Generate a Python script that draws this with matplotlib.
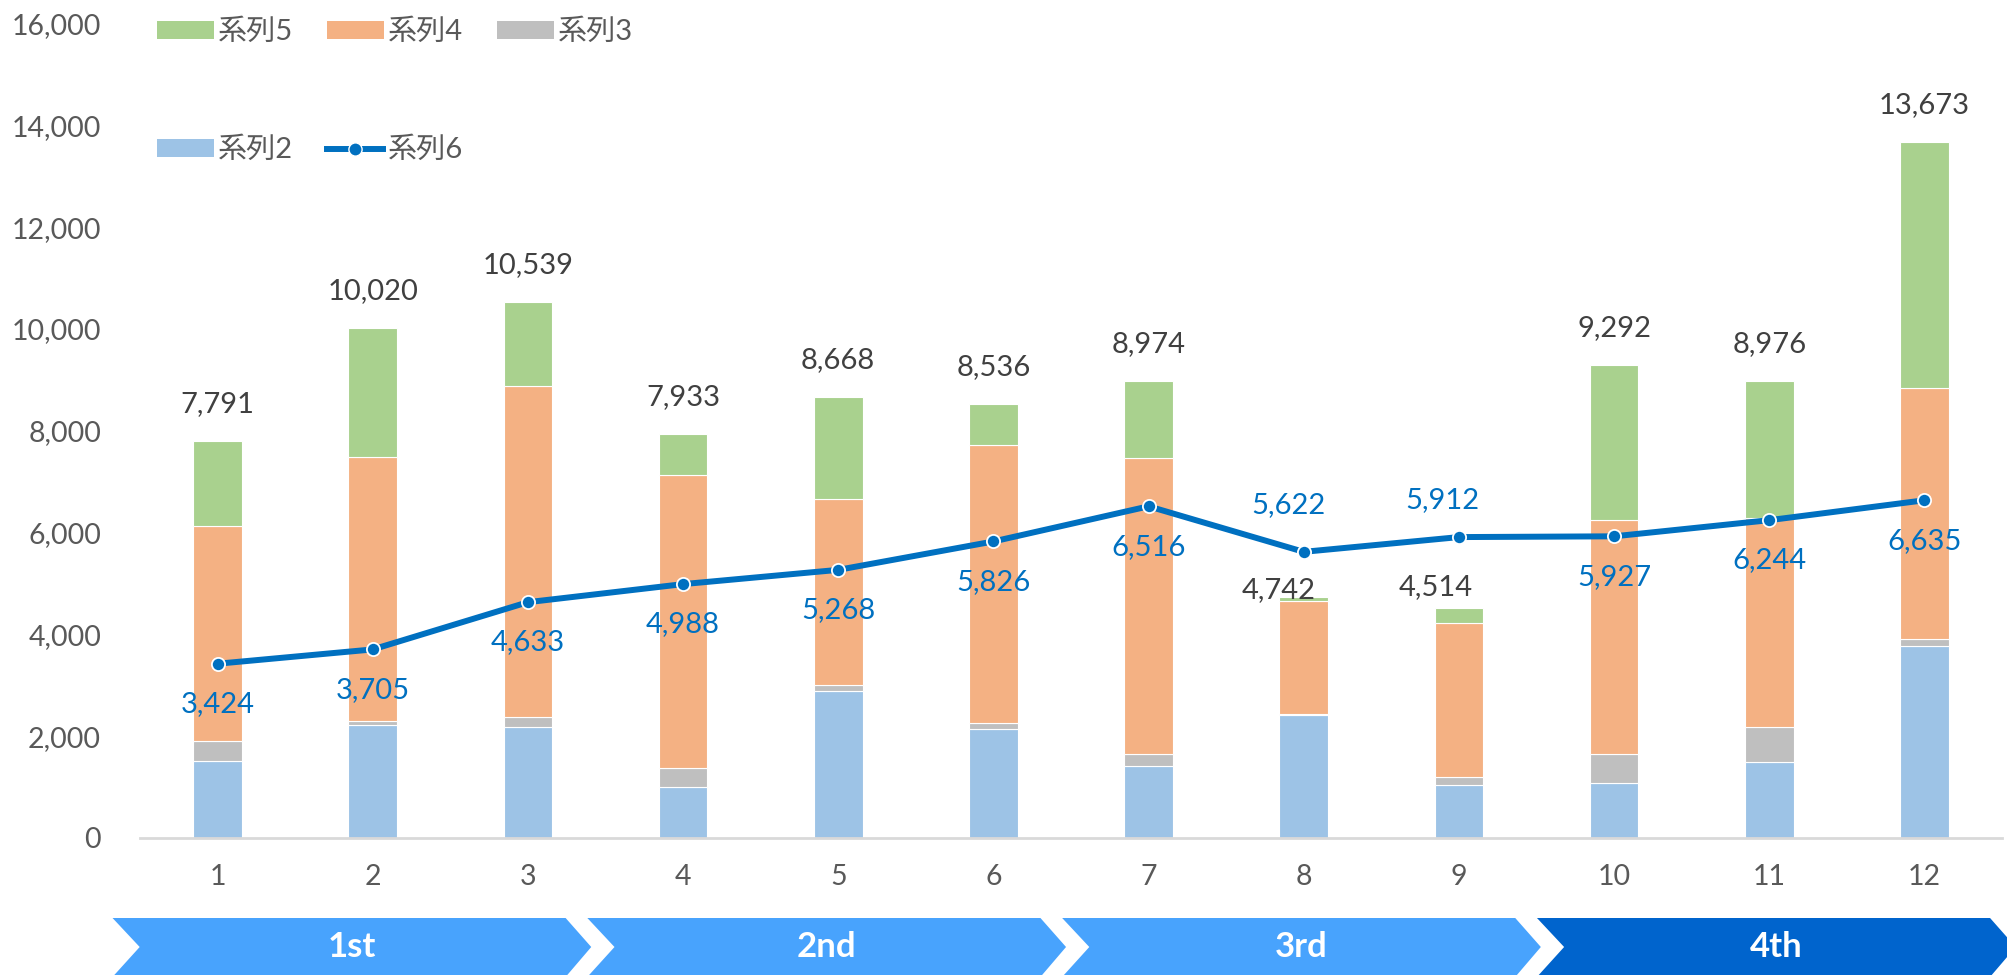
import matplotlib
matplotlib.use("Agg")
import matplotlib.pyplot as plt
from matplotlib.patches import Polygon
from matplotlib.lines import Line2D
from matplotlib.patches import Patch
from matplotlib.transforms import blended_transform_factory
from matplotlib.ticker import FuncFormatter
import numpy as np

plt.rcParams['font.family'] = ['Lato', 'Noto Sans CJK JP', 'DejaVu Sans']

categories = ['1', '2', '3', '4', '5', '6', '7', '8', '9', '10', '11', '12']
s2 = [1520, 2226, 2175, 1008, 2894, 2141, 1408, 2416, 1035, 1074, 1500, 3778]
s3 = [390, 80, 210, 367, 106, 125, 249, 20, 163, 570, 680, 122]
s4 = [4220, 5175, 6495, 5755, 3660, 5449, 5803, 2214, 3026, 4596, 4110, 4950]
s5 = [1661, 2539, 1659, 803, 2008, 811, 1514, 92, 290, 3052, 2686, 4823]
totals = [7791, 10020, 10539, 7933, 8668, 8536, 8974, 4742, 4514, 9292, 8976, 13673]
s6 = [3424, 3705, 4633, 4988, 5268, 5826, 6516, 5622, 5912, 5927, 6244, 6635]
periods = ['1st', '2nd', '3rd', '4th']

C2, C3, C4, C5 = '#9DC3E6', '#BFBFBF', '#F4B183', '#A9D18E'
C6 = '#0070C0'
TXT = '#595959'
NUM_FS = 21

fig = plt.figure(figsize=(20.08, 9.75), dpi=100)
ax = fig.add_axes([140/2008, 137/975, (2002-140)/2008, (838-23.6)/975])

x = np.arange(len(categories))
w = 0.313
b2 = np.array(s2)
b3 = b2 + np.array(s3)
b4 = b3 + np.array(s4)
ax.bar(x, s2, w, color=C2, edgecolor='white', linewidth=0.8, label='系列2', zorder=2)
ax.bar(x, s3, w, bottom=b2, color=C3, edgecolor='white', linewidth=0.8, label='系列3', zorder=2)
ax.bar(x, s4, w, bottom=b3, color=C4, edgecolor='white', linewidth=0.8, label='系列4', zorder=2)
ax.bar(x, s5, w, bottom=b4, color=C5, edgecolor='white', linewidth=0.8, label='系列5', zorder=2)
ax.plot(x, s6, color=C6, lw=4.3, marker='o', ms=9.5, mfc=C6, mec='white', mew=1.3,
        zorder=4, solid_capstyle='round')

# total labels
tot_off = {7: (-18, 5), 8: (-16.5, 15)}
for i, t in enumerate(totals):
    dx, dy = tot_off.get(i, (0, 26.6))
    ax.annotate(f'{t:,}', (x[i], t), xytext=(dx, dy), textcoords='offset points',
                ha='center', va='center', fontsize=NUM_FS, color='#404040', zorder=5)

# line labels
line_off = {7: (-11, 34), 8: (-12, 27)}
for i, v in enumerate(s6):
    dx, dy = line_off.get(i, (0, -29))
    ax.annotate(f'{v:,}', (x[i], v), xytext=(dx, dy), textcoords='offset points',
                ha='center', va='center', fontsize=NUM_FS, color=C6, zorder=5)

ax.set_xlim(-0.5, len(categories) - 0.5)
ax.set_ylim(0, 16000)
ax.set_yticks(np.arange(0, 16001, 2000))
ax.yaxis.set_major_formatter(FuncFormatter(lambda v, p: f'{int(v):,}'))
ax.set_xticks(x)
ax.set_xticklabels(categories)
ax.tick_params(axis='y', length=0, pad=28, labelsize=20.5, labelcolor=TXT)
ax.tick_params(axis='x', length=0, pad=19, labelsize=20.5, labelcolor=TXT)
for s in ['top', 'right', 'left']:
    ax.spines[s].set_visible(False)
ax.spines['bottom'].set_color('#D9D9D9')
ax.spines['bottom'].set_linewidth(2)
ax.spines['bottom'].set_zorder(3)

# legends
hkw = dict(frameon=False, fontsize=21, handlelength=1.94, handleheight=0.58,
           handletextpad=0.15, columnspacing=1.16, borderpad=0, borderaxespad=0)
h5 = Patch(facecolor=C5, label='系列5')
h4 = Patch(facecolor=C4, label='系列4')
h3 = Patch(facecolor=C3, label='系列3')
h2 = Patch(facecolor=C2, label='系列2')
h6 = Line2D([], [], color=C6, lw=4.3, marker='o', ms=9.5, mfc=C6, mec='white', mew=1.0, label='系列6')
leg1 = fig.legend(handles=[h5, h4, h3], ncol=3, loc='center left',
                  bbox_to_anchor=(157/2008, 1-32/975), labelcolor=TXT, **hkw)
leg2 = fig.legend(handles=[h2, h6], ncol=3, loc='center left',
                  bbox_to_anchor=(157/2008, 1-150/975), labelcolor=TXT, **hkw)

# period chevrons below the axis
tr = blended_transform_factory(ax.transData, fig.transFigure)
pitch = 3.06
start0 = -0.677
body = 2.92
tip = 0.165
notch = 0.175
ytop, ymid, ybot = 1-918/975, 1-947/975, -0.002
chev_colors = ['#48A3FD', '#48A3FD', '#48A3FD', '#0064CD']
for k, lab in enumerate(periods):
    s = start0 + pitch * k
    pts = [(s, ytop), (s + body, ytop), (s + body + tip, ymid), (s + body, ybot),
           (s, ybot), (s + notch, ymid)]
    poly = Polygon(pts, closed=True, transform=tr, facecolor=chev_colors[k],
                   edgecolor='none', clip_on=False)
    fig.add_artist(poly)
    fig.text(s + (body + tip) / 2, ymid, lab, transform=tr, ha='center', va='center',
             fontsize=25, fontweight='bold', color='white')

fig.savefig('out.png', dpi=100)
